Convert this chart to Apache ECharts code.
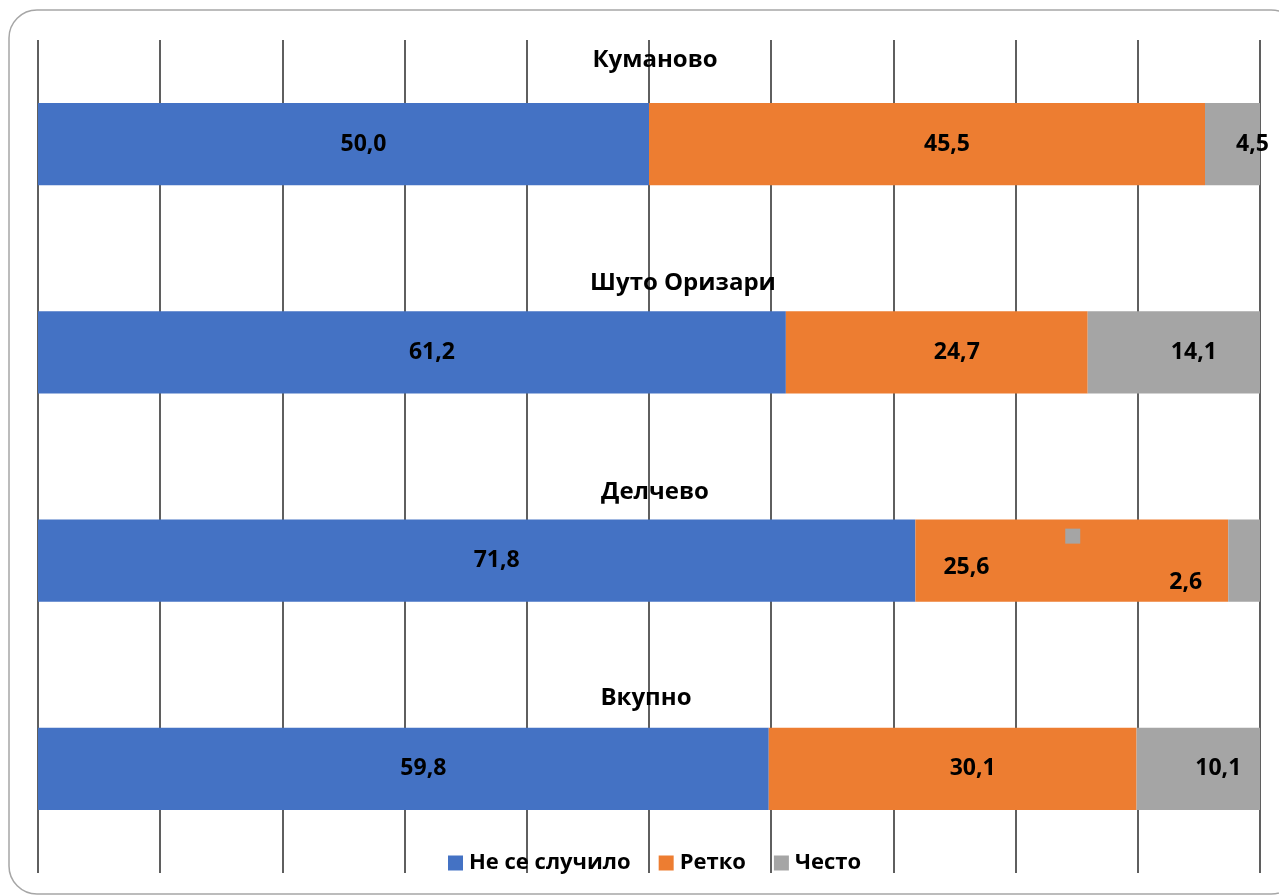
<!DOCTYPE html>
<html>
<head>
<meta charset="utf-8">
<script src="https://cdn.jsdelivr.net/npm/echarts@6/dist/echarts.min.js"></script>
<style>
html,body{margin:0;padding:0;background:#fff;}
#chart{width:1279px;height:896px;}
</style>
</head>
<body>
<div id="chart"></div>
<script>
const categories = ['Куманово', 'Шуто Оризари', 'Делчево', 'Вкупно'];
const seriesNames = ['Не се случило', 'Ретко', 'Често'];
const neSeSluchilo = [50.0, 61.2, 71.8, 59.8];
const retko = [45.5, 24.7, 25.6, 30.1];
const chesto = [4.5, 14.1, 2.6, 10.1];
const xTicks = [0, 10, 20, 30, 40, 50, 60, 70, 80, 90, 100];

const colors = ['#4472C4', '#ED7D31', '#A5A5A5'];
const FONT = 'Open Sans';
const FS = 23;
const fmt = v => v.toFixed(1).replace('.', ',');

// category title label offsets (style only)
const titleOffsets = [[6, -84], [34, -69], [6, -68], [-3, -71]];

const baseLabel = {
  show: true,
  position: 'inside',
  offset: [20, 0],
  color: '#000',
  fontFamily: FONT,
  fontWeight: 'bold',
  fontSize: FS,
  formatter: p => fmt(p.value)
};

function barData(arr, overrides) {
  return arr.map((v, i) => overrides && overrides[i] ? { value: v, label: overrides[i] } : v);
}

const titleLabelStyle = {
  show: true, position: 'inside', color: '#000',
  fontFamily: FONT, fontWeight: 'bold', fontSize: 24,
  textBorderWidth: 0, opacity: 1
};

const chart = echarts.init(document.getElementById('chart'));
chart.setOption({
  animation: false,
  backgroundColor: '#fff',
  graphic: [{
    type: 'rect',
    shape: { x: 9, y: 10, width: 1290, height: 884, r: 28 },
    style: { fill: 'none', stroke: '#a6a6a6', lineWidth: 1.5 },
    z: -10, silent: true
  }],
  grid: { left: 38, right: 19, top: 40, bottom: 23, containLabel: false },
  legend: {
    data: seriesNames,
    top: 847,
    left: 443,
    itemWidth: 15,
    itemHeight: 15,
    itemGap: 28,
    icon: 'rect',
    textStyle: { fontFamily: FONT, fontWeight: 'bold', fontSize: 22, color: '#000', padding: [0, 0, 0, 1] }
  },
  xAxis: {
    type: 'value',
    min: xTicks[0],
    max: xTicks[xTicks.length - 1],
    interval: xTicks[1] - xTicks[0],
    axisLabel: { show: false },
    axisLine: { show: false },
    axisTick: { show: false },
    splitLine: { show: true, lineStyle: { color: '#2a2a2a', width: 1.5 } }
  },
  yAxis: {
    type: 'category',
    data: categories,
    inverse: true,
    axisLabel: { show: false },
    axisLine: { show: false },
    axisTick: { show: false },
    splitLine: { show: false }
  },
  series: [
    {
      name: seriesNames[0], type: 'bar', stack: 'total', barWidth: '39.5%',
      itemStyle: { color: colors[0] },
      label: baseLabel,
      data: barData(neSeSluchilo)
    },
    {
      name: seriesNames[1], type: 'bar', stack: 'total', barWidth: '39.5%',
      itemStyle: { color: colors[1] },
      label: baseLabel,
      data: barData(retko, { 2: { position: 'insideLeft', distance: 28, offset: [0, 7] } })
    },
    {
      name: seriesNames[2], type: 'bar', stack: 'total', barWidth: '39.5%',
      itemStyle: { color: colors[2] },
      label: baseLabel,
      data: barData(chesto, {
        2: {
          position: 'left', distance: 26, offset: [0, 14], align: 'right',
          formatter: p => '{sq|}{gap|}\n{v|' + fmt(p.value) + '}',
          rich: {
            sq: { width: 15, height: 15, backgroundColor: colors[2] },
            gap: { width: 122, height: 15 },
            v: { lineHeight: 77, align: 'right', fontFamily: FONT, fontWeight: 'bold', fontSize: FS, color: '#000' }
          }
        }
      })
    },
    {
      name: 'titles', type: 'scatter', symbolSize: 1, silent: true, z: 5,
      itemStyle: { color: 'rgba(0,0,0,0)', opacity: 1 },
      emphasis: { disabled: true },
      data: categories.map((c, i) => ({
        value: [50, c],
        label: Object.assign({}, titleLabelStyle, { offset: titleOffsets[i] })
      })),
      label: Object.assign({}, titleLabelStyle, { formatter: p => p.value[1] })
    }
  ]
});
</script>
</body>
</html>
